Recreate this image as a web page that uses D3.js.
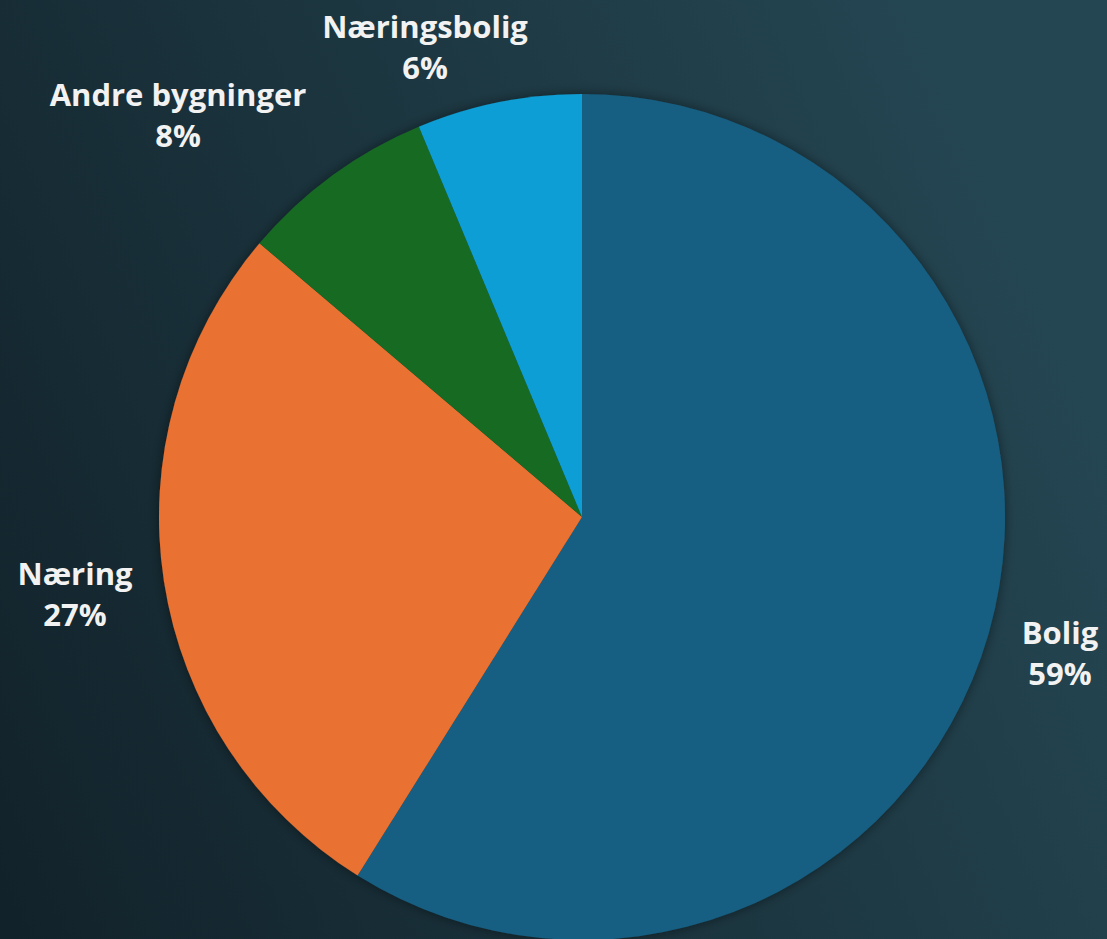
<!DOCTYPE html>
<html>
<head>
<meta charset="utf-8">
<script src="https://cdn.jsdelivr.net/npm/d3@7"></script>
<style>
  html, body { margin: 0; padding: 0; overflow: hidden; }
  svg { display: block; }
</style>
</head>
<body>
<script>
// chart data
var categories = ["Bolig", "Næring", "Andre bygninger", "Næringsbolig"];
var values = [58.9, 27.3, 7.5, 6.3];
var pctLabels = ["59%", "27%", "8%", "6%"];
var colors = ["#165f82", "#e97132", "#196b24", "#0f9ed5"];

var width = 1107, height = 939;
var cx = 582, cy = 517, radius = 423;

var svg = d3.select("body").append("svg")
  .attr("width", width)
  .attr("height", height);

var defs = svg.append("defs");

// background gradient, darker on the left / bottom-left, lighter on the right
var grad = defs.append("linearGradient")
  .attr("id", "bg")
  .attr("gradientUnits", "userSpaceOnUse")
  .attr("x1", 0).attr("y1", 900)
  .attr("x2", 1107).attr("y2", 420);
grad.append("stop").attr("offset", "0%").attr("stop-color", "#12222a");
grad.append("stop").attr("offset", "100%").attr("stop-color", "#244652");

svg.append("rect")
  .attr("width", width)
  .attr("height", height)
  .attr("fill", "url(#bg)");

// soft shadow around the pie
var shadow = defs.append("filter")
  .attr("id", "shadow")
  .attr("x", "-20%").attr("y", "-20%")
  .attr("width", "140%").attr("height", "140%");
shadow.append("feDropShadow")
  .attr("dx", 0).attr("dy", 0)
  .attr("stdDeviation", 6)
  .attr("flood-color", "#000")
  .attr("flood-opacity", 0.45);

var pie = d3.pie().sort(null).value(d => d);
var arc = d3.arc().innerRadius(0).outerRadius(radius);

var g = svg.append("g")
  .attr("transform", "translate(" + cx + "," + cy + ")")
  .attr("filter", "url(#shadow)");

var arcs = pie(values);

g.selectAll("path")
  .data(arcs)
  .enter().append("path")
  .attr("d", arc)
  .attr("fill", (d, i) => colors[i]);

// label positions, outside the pie (center of the two-line block)
var labelPos = [
  [1060, 648],
  [75, 589],
  [178, 110],
  [425, 42]
];

var labels = svg.append("g")
  .attr("font-family", "'Open Sans', 'Noto Sans', sans-serif")
  .attr("font-weight", "bold")
  .attr("font-size", 31)
  .attr("fill", "#f2f2f2")
  .attr("text-anchor", "middle");

categories.forEach((c, i) => {
  var t = labels.append("text")
    .attr("x", labelPos[i][0])
    .attr("y", labelPos[i][1]);
  t.append("tspan").attr("x", labelPos[i][0]).attr("dy", -4).text(c);
  t.append("tspan").attr("x", labelPos[i][0]).attr("dy", 41).text(pctLabels[i]);
});
</script>
</body>
</html>
